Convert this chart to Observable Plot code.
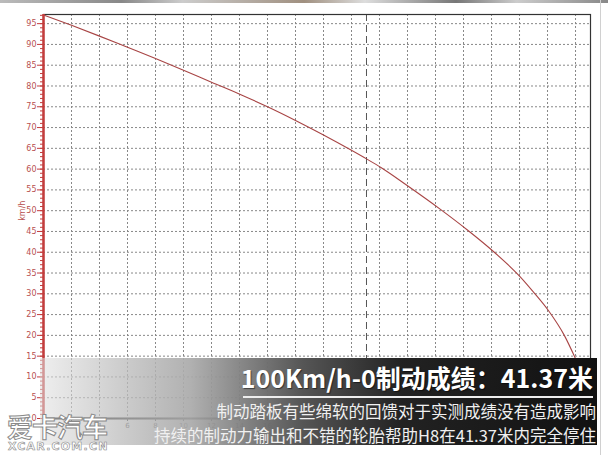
<!DOCTYPE html>
<html><head><meta charset="utf-8">
<script src="https://cdn.jsdelivr.net/npm/d3@7"></script>
<script src="https://cdn.jsdelivr.net/npm/@observablehq/plot@0.6"></script>
<style>
html,body{margin:0;padding:0;background:#fff;}
#wrap{position:relative;width:608px;height:455px;overflow:hidden;font-family:"Noto Sans CJK SC","Noto Sans",sans-serif;}
#chart{position:absolute;left:0;top:0;z-index:0;}
#topbar{position:absolute;left:0;top:0;width:608px;height:3px;z-index:1;background:linear-gradient(to right,#bbb,#888 20%,#ccc 30%,#a09080 50%,#ddd 60%,#777 75%,#ccc 85%,#888);}
#rightline{position:absolute;left:600px;top:0;width:1px;height:455px;z-index:1;background:#d0d0d0;}
#band{position:absolute;left:40px;top:358px;width:557px;height:87px;z-index:1;background:linear-gradient(to right,rgba(225,225,225,0.55) 0%,rgba(170,170,170,0.92) 27%,#565656 47%,#222 65%,#111 100%);}
.t{position:absolute;color:#fff;white-space:nowrap;z-index:2;}
#title{right:15px;top:363px;font-size:25px;font-weight:bold;line-height:29px;text-shadow:1px 1px 1px rgba(0,0,0,0.5);}
#uline{position:absolute;left:243px;top:396px;width:350px;height:2px;z-index:2;background:#eee;}
#l2{right:12px;top:400px;font-size:16.5px;line-height:22px;color:#f0f0f0;}
#l3{right:12px;top:424px;font-size:16.5px;line-height:22px;color:#f0f0f0;}
#wm{position:absolute;left:7px;top:411px;z-index:2;font-size:26px;font-weight:bold;color:#fff;-webkit-text-stroke:1px #8a8a8a;letter-spacing:-1px;line-height:30px;}
#wm2{position:absolute;left:8px;top:440px;z-index:2;font-size:11px;font-weight:bold;color:#fff;-webkit-text-stroke:0.6px #8a8a8a;letter-spacing:1.2px;line-height:13px;font-family:"DejaVu Sans",sans-serif;}
</style></head>
<body><div id="wrap"><div id="chart"></div>
<div id="topbar"></div><div id="rightline"></div>
<div id="band"></div>
<div class="t" id="title">100Km/h-0制动成绩：41.37米</div>
<div id="uline"></div>
<div class="t" id="l2">制动踏板有些绵软的回馈对于实测成绩没有造成影响</div>
<div class="t" id="l3">持续的制动力输出和不错的轮胎帮助H8在41.37米内完全停住</div>
<div id="wm">爱卡汽车</div>
<div id="wm2">XCAR.COM.CN</div>
</div>
<script>
const distance = [0, 2, 4, 6, 8, 10, 12, 14.1, 16, 18, 20, 21.9, 23.1, 24.1, 26, 28.4, 30.3, 32.2, 34.1, 35, 36.1, 37.2, 38];
const speed = [97.1, 94.6, 92.0, 89.3, 86.6, 83.8, 80.9, 77.9, 75.0, 71.7, 68.2, 64.7, 62.4, 60.4, 56.0, 50.2, 45.3, 40.0, 33.9, 30.4, 25.8, 20.0, 14.4];
const yTicks = d3.range(0, 96, 5);
const yMinor = d3.range(0, 98, 1);
const xTicks = d3.range(0, 40, 2);
const markerX = [23.07];
const yLabel = "km/h";

const data = distance.map((d, i) => ({d, v: speed[i]}));
const red = "#c43c3c";

const chart = Plot.plot({
  width: 608, height: 455,
  marginLeft: 43, marginTop: 14, marginRight: 18, marginBottom: 37,
  style: {background: "transparent", fontFamily: "DejaVu Sans, sans-serif"},
  x: {domain: [0, 39.07]},
  y: {domain: [0, 97.2]},
  marks: [
    Plot.gridY(yTicks.filter(t => t > 0), {stroke: "#888", strokeOpacity: 1, strokeDasharray: "2,2", strokeWidth: 1}),
    Plot.gridX(xTicks.filter(t => t > 0), {stroke: "#888", strokeOpacity: 1, strokeDasharray: "2,2", strokeWidth: 1}),
    Plot.ruleX(markerX, {stroke: "#555", strokeDasharray: "7,4", strokeWidth: 1}),
    Plot.frame({stroke: "#333", strokeWidth: 1.2}),
    Plot.line(data, {x: "d", y: "v", stroke: "#a84545", strokeWidth: 1.1, curve: "monotone-x"}),
    Plot.ruleY([0], {stroke: "#111", strokeWidth: 2}),
    Plot.axisX({ticks: xTicks, tickSize: 3, fontSize: 7, fill: "#444", stroke: "#222", label: null, tickPadding: 2}),
    Plot.axisY({ticks: yMinor, tickSize: 3, tickFormat: () => "", stroke: red, label: null}),
    Plot.axisY({ticks: yTicks, tickSize: 6, fontSize: 8, fill: "#b85050", stroke: red, label: null, tickPadding: 1}),
    Plot.ruleX([0], {stroke: red, strokeWidth: 2.5}),
    Plot.text([yLabel], {x: 0, y: 50, dx: -21, rotate: -90, fill: "#b85050", fontSize: 8})
  ]
});
document.getElementById("chart").appendChild(chart);
</script></body></html>
